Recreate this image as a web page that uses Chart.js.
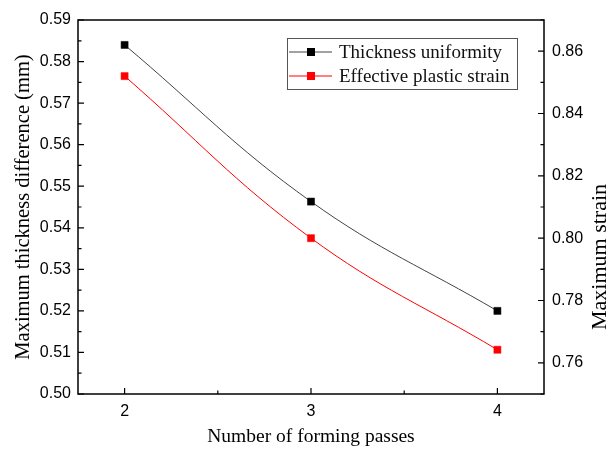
<!DOCTYPE html>
<html>
<head>
<meta charset="utf-8">
<script src="https://cdn.jsdelivr.net/npm/chart.js@4/dist/chart.umd.min.js"></script>
<style>
  html, body { margin: 0; padding: 0; background: #ffffff; }
  #wrap { width: 608px; height: 453px; position: relative; }
</style>
</head>
<body>
<div id="wrap"><canvas id="c" width="608" height="453"></canvas></div>
<script>
// Forming passes and the two measured responses
const passes = [2, 3, 4];
const thicknessDiff = [0.584, 0.5463, 0.520];   // left axis, mm
const plasticStrain = [0.852, 0.800, 0.7642];   // right axis

const seriesNames = ['Thickness uniformity', 'Effective plastic strain'];
const xTicks = [2, 3, 4];
const xMinorTicks = [2.5, 3.5];
const leftTicks = [0.50, 0.51, 0.52, 0.53, 0.54, 0.55, 0.56, 0.57, 0.58, 0.59];
const leftMinorTicks = [0.505, 0.515, 0.525, 0.535, 0.545, 0.555, 0.565, 0.575, 0.585];
const rightTicks = [0.76, 0.78, 0.80, 0.82, 0.84, 0.86];
const rightMinorTicks = [0.75, 0.77, 0.79, 0.81, 0.83, 0.85, 0.87];

const serif = '"Liberation Serif", "Times New Roman", serif';
const sans = '"Liberation Sans", Arial, sans-serif';

const toPoints = (xs, ys) => xs.map((x, i) => ({ x: x, y: ys[i] }));

// Frame, inward tick marks, rotated right title and in-plot legend
const framePlugin = {
  id: 'frame',
  afterDatasetsDraw(chart) {
    const { ctx, chartArea: a, scales } = chart;
    const x = scales.x, yl = scales.y, yr = scales.y1;
    ctx.save();
    ctx.strokeStyle = '#000';
    ctx.lineWidth = 1.5;
    ctx.strokeRect(a.left, a.top, a.right - a.left, a.bottom - a.top);

    ctx.lineWidth = 1.2;
    ctx.beginPath();
    const major = 6, minor = 3.5;
    xTicks.forEach(v => { const p = x.getPixelForValue(v); ctx.moveTo(p, a.bottom); ctx.lineTo(p, a.bottom - major); });
    xMinorTicks.forEach(v => { const p = x.getPixelForValue(v); ctx.moveTo(p, a.bottom); ctx.lineTo(p, a.bottom - minor); });
    leftTicks.forEach(v => { const p = yl.getPixelForValue(v); ctx.moveTo(a.left, p); ctx.lineTo(a.left + major, p); });
    leftMinorTicks.forEach(v => { const p = yl.getPixelForValue(v); ctx.moveTo(a.left, p); ctx.lineTo(a.left + minor, p); });
    rightTicks.forEach(v => { const p = yr.getPixelForValue(v); ctx.moveTo(a.right, p); ctx.lineTo(a.right - major, p); });
    rightMinorTicks.forEach(v => { const p = yr.getPixelForValue(v); ctx.moveTo(a.right, p); ctx.lineTo(a.right - minor, p); });
    ctx.stroke();

    // right axis title, reading bottom to top
    ctx.save();
    ctx.translate(600, 257);
    ctx.rotate(-Math.PI / 2);
    ctx.fillStyle = '#000';
    ctx.font = '22px ' + serif;
    ctx.textAlign = 'center';
    ctx.textBaseline = 'middle';
    ctx.fillText('Maximum strain', 0, 0);
    ctx.restore();

    // legend box
    const bx = 287, by = 38, bw = 230, bh = 51;
    ctx.fillStyle = '#fff';
    ctx.fillRect(bx, by, bw, bh);
    ctx.strokeStyle = '#555';
    ctx.lineWidth = 1;
    ctx.strokeRect(bx + 0.5, by + 0.5, bw, bh);
    ctx.font = '19px ' + serif;
    ctx.textAlign = 'left';
    ctx.textBaseline = 'middle';
    chart.data.datasets.forEach((ds, i) => {
      const ry = by + 14 + i * 24;
      ctx.strokeStyle = ds.borderColor;
      ctx.lineWidth = 1;
      ctx.beginPath();
      ctx.moveTo(bx + 2, ry);
      ctx.lineTo(bx + 45, ry);
      ctx.stroke();
      ctx.fillStyle = ds.pointBackgroundColor;
      ctx.fillRect(bx + 20, ry - 4, 8, 8);
      ctx.fillStyle = '#111';
      ctx.fillText(ds.label, bx + 52, ry + 1);
    });
    ctx.restore();
  }
};

new Chart(document.getElementById('c'), {
  type: 'line',
  data: {
    datasets: [
      {
        label: seriesNames[0],
        data: toPoints(passes, thicknessDiff),
        yAxisID: 'y',
        borderColor: '#444444',
        borderWidth: 1,
        pointStyle: 'rect',
        pointRadius: 5,
        pointBorderWidth: 0.5,
        pointBackgroundColor: '#000000',
        pointBorderColor: '#000000',
        tension: 0.4,
        fill: false
      },
      {
        label: seriesNames[1],
        data: toPoints(passes, plasticStrain),
        yAxisID: 'y1',
        borderColor: '#ff0000',
        borderWidth: 1,
        pointStyle: 'rect',
        pointRadius: 5,
        pointBorderWidth: 0.5,
        pointBackgroundColor: '#ff0000',
        pointBorderColor: '#ff0000',
        tension: 0.4,
        fill: false
      }
    ]
  },
  options: {
    responsive: false,
    animation: false,
    devicePixelRatio: 1,
    layout: { padding: { top: 20, left: 0, right: 0, bottom: 0 } },
    plugins: { legend: { display: false }, tooltip: { enabled: false } },
    scales: {
      x: {
        type: 'linear',
        min: 1.75,
        max: 4.25,
        afterBuildTicks: s => { s.ticks = xTicks.map(v => ({ value: v })); },
        afterFit: s => { s.height = 59; },
        grid: { display: false, drawTicks: false },
        border: { display: false },
        ticks: { color: '#000', padding: 8, font: { family: sans, size: 16 }, callback: v => String(v) },
        title: { display: true, text: 'Number of forming passes', color: '#000', font: { family: serif, size: 19.5 }, padding: { top: 0, bottom: 4 } }
      },
      y: {
        position: 'left',
        min: 0.50,
        max: 0.59,
        afterBuildTicks: s => { s.ticks = leftTicks.map(v => ({ value: v })); },
        afterFit: s => { s.width = 78; },
        grid: { display: false, drawTicks: false },
        border: { display: false },
        ticks: { color: '#000', padding: 7, font: { family: sans, size: 16 }, callback: v => v.toFixed(2) },
        title: { display: true, text: 'Maximum thickness difference (mm)', color: '#000', font: { family: serif, size: 20.5 }, padding: { top: 11, bottom: 0 } }
      },
      y1: {
        position: 'right',
        min: 0.75,
        max: 0.87,
        afterBuildTicks: s => { s.ticks = rightTicks.map(v => ({ value: v })); },
        afterFit: s => { s.width = 64; },
        grid: { display: false, drawTicks: false },
        border: { display: false },
        ticks: { color: '#000', padding: 8, font: { family: sans, size: 16 }, callback: v => v.toFixed(2) }
      }
    }
  },
  plugins: [framePlugin]
});
</script>
</body>
</html>
